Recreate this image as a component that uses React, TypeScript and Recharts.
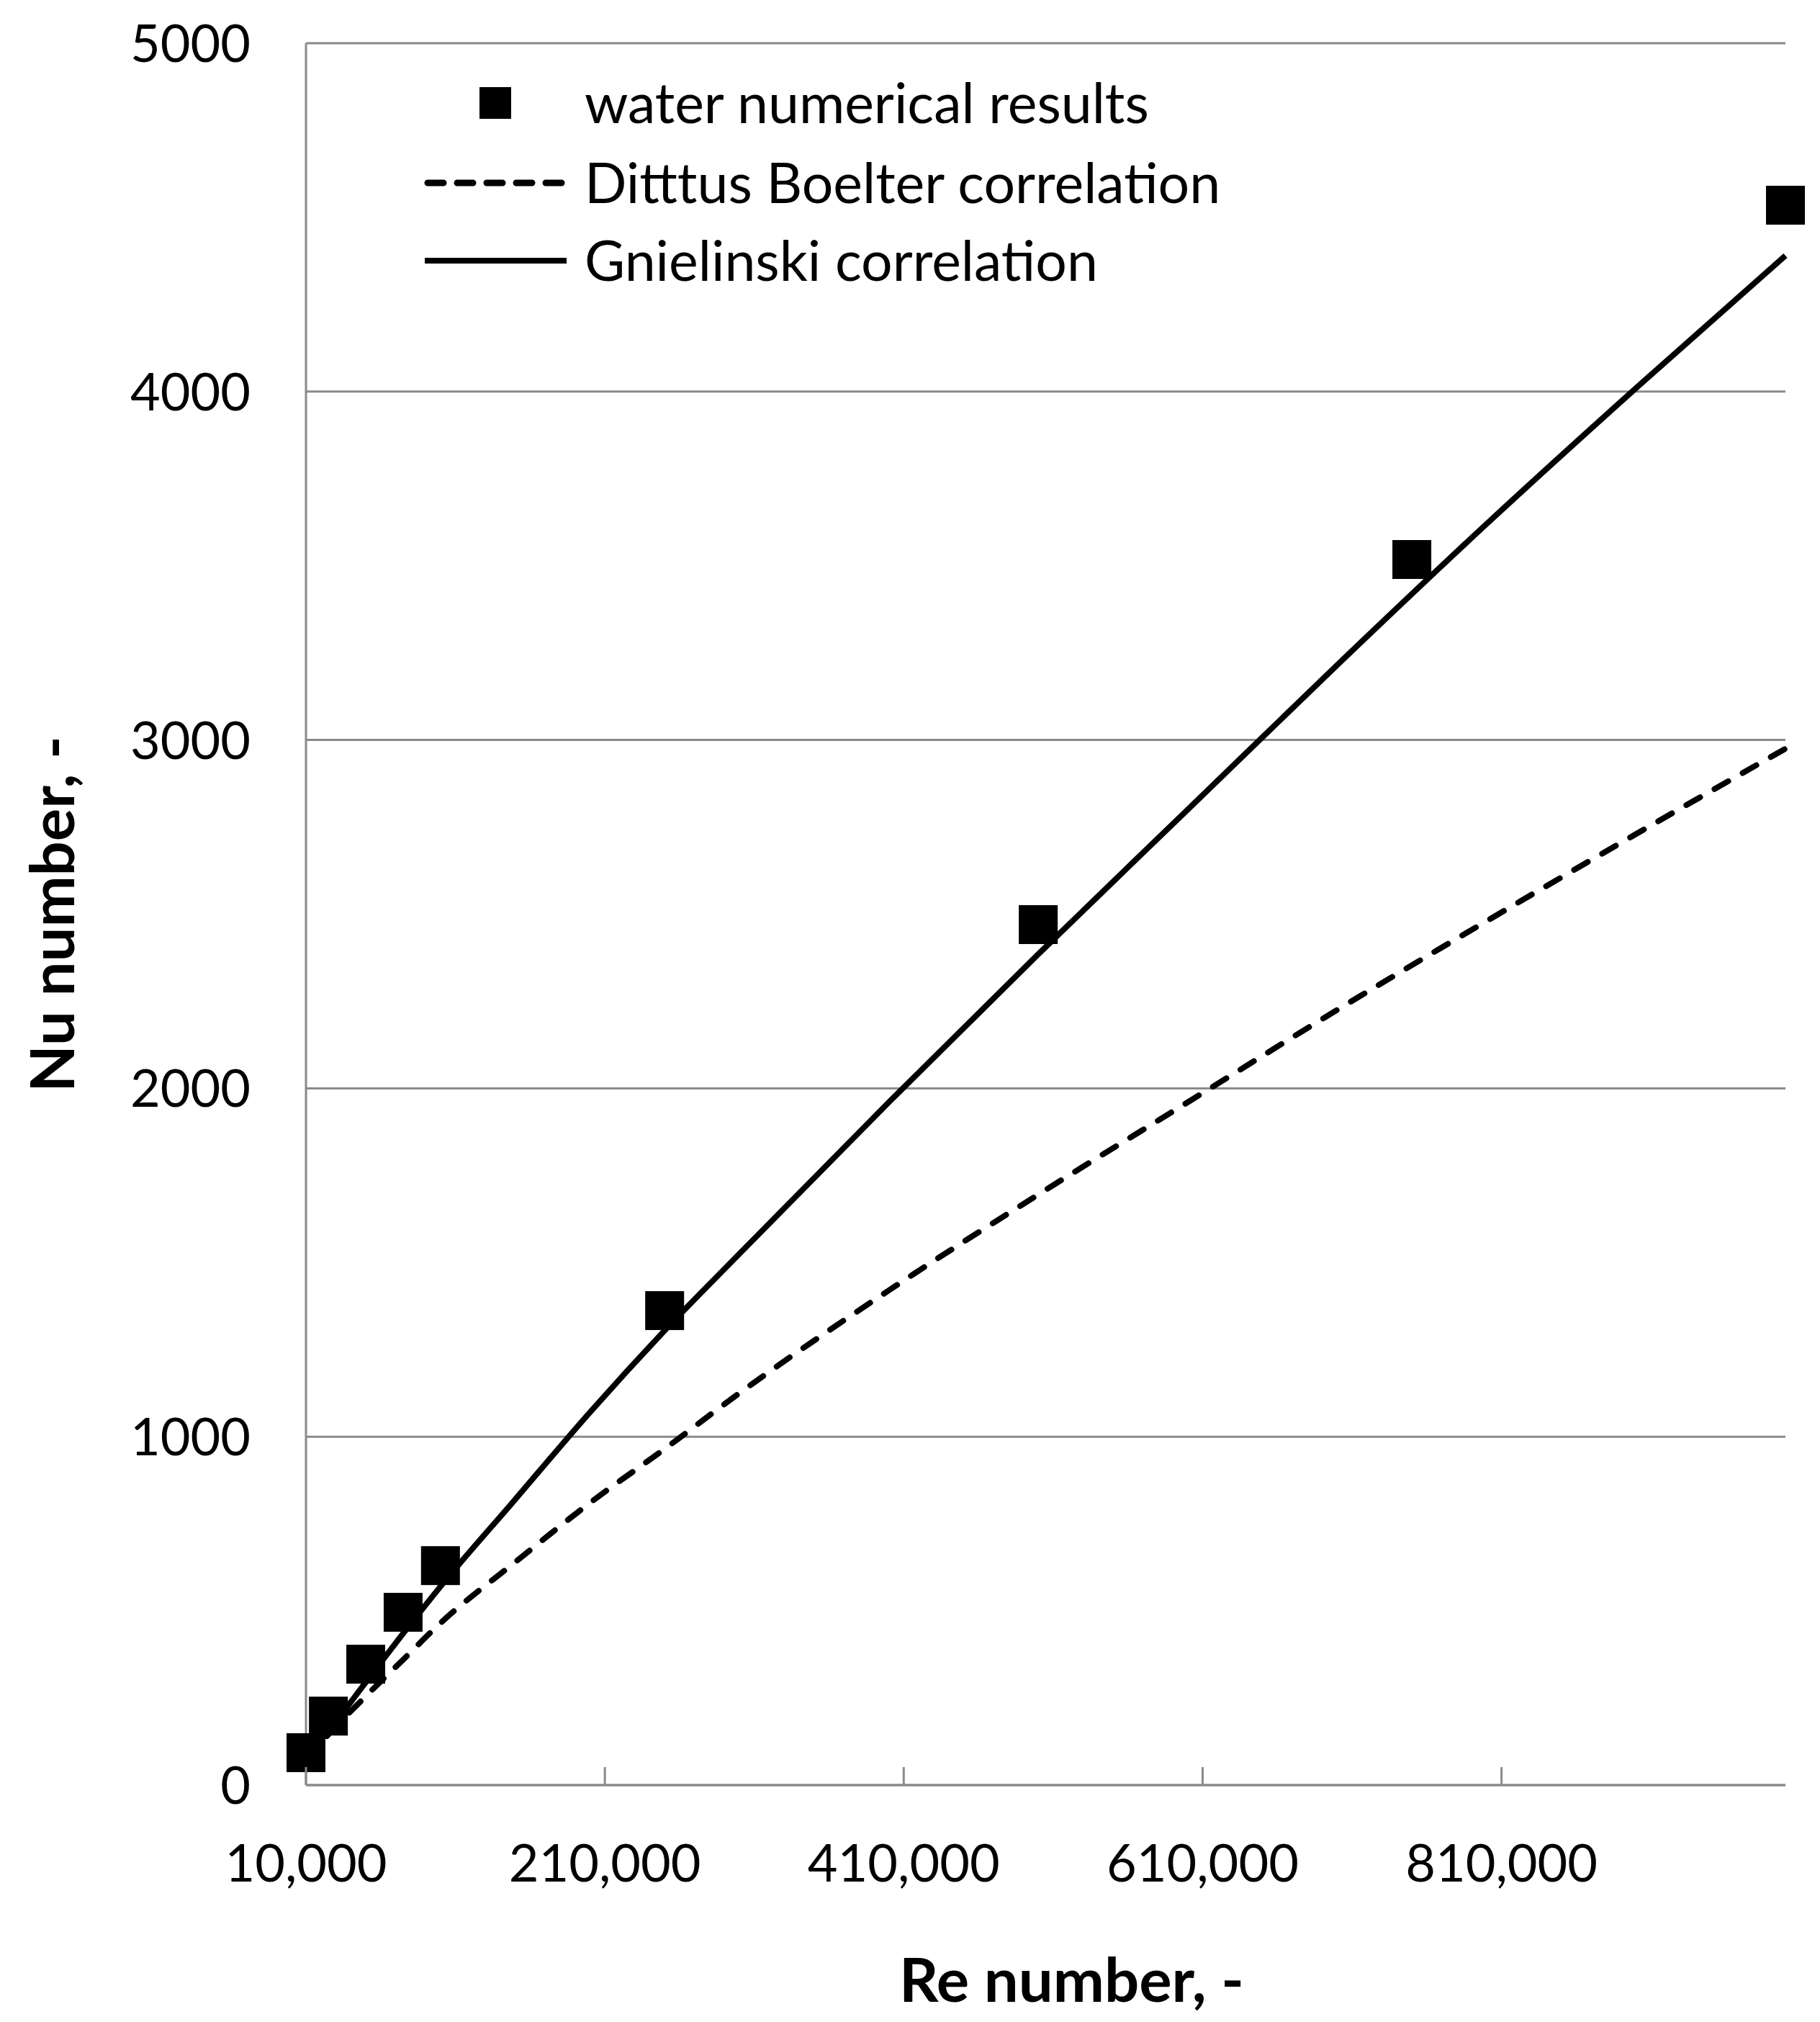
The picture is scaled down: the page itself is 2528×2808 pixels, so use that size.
import React from "react";
import {
  ComposedChart,
  Line,
  Scatter,
  XAxis,
  YAxis,
  CartesianGrid,
  Legend,
} from "recharts";

/** Axis ticks */
const reTicks = [10000, 210000, 410000, 610000, 810000];
const nuTicks = [0, 1000, 2000, 3000, 4000, 5000];

/** Simulation points (squares) */
const simRe = [10000, 25000, 50000, 75000, 100000, 250000, 500000, 750000, 1000000];
const simNu = [93, 198, 347, 496, 630, 1362, 2470, 3518, 4535];

/** Correlation curves */
const corrRe = [
  10000, 25000, 50000, 75000, 100000, 150000, 200000, 250000, 300000, 400000,
  500000, 600000, 700000, 800000, 900000, 1000000,
];
const dittusNu = [70, 145, 255, 360, 465, 640, 810, 965, 1125, 1420, 1695, 1960, 2225, 2480, 2730, 2975];
const gnielinskiNu = [80, 155, 295, 435, 570, 820, 1070, 1305, 1525, 1960, 2385, 2800, 3215, 3620, 4010, 4390];

const FONT = "Lato, 'Open Sans', sans-serif";
const GRID = "#8a8a8a";
const W = 2528;
const H = 2808;

const sim = simRe.map((re, i) => ({ re, nu: simNu[i] }));
const dittus = corrRe.map((re, i) => ({ re, nu: dittusNu[i] }));
const gnielinski = corrRe.map((re, i) => ({ re, nu: gnielinskiNu[i] }));

const fmt = (v: number) => v.toLocaleString("en-US");

function XTick({ x, y, payload }: any) {
  return (
    <g>
      <line x1={x} x2={x} y1={y} y2={y - 25} stroke={GRID} strokeWidth={3} />
      <text x={x} y={y + 134} textAnchor="middle" fontFamily={FONT} fontSize={72} fill="#000">
        {fmt(payload.value)}
      </text>
    </g>
  );
}

function YTick({ x, y, payload }: any) {
  return (
    <text x={x - 77} y={y} dy="0.36em" textAnchor="end" fontFamily={FONT} fontSize={72} fill="#000">
      {payload.value}
    </text>
  );
}

const Square = ({ cx, cy }: any) => <rect x={cx - 27} y={cy - 27} width={54} height={54} fill="#000" />;

// legend drawn in its own small svg, positioned over the plot
function ChartLegend() {
  const text = { fontFamily: FONT, fontSize: 77, fill: "#000" } as const;
  return (
    <svg width={1200} height={360}>
      <rect x={116} y={61} width={44} height={44} fill="#000" />
      <text x={262} y={83} dy="0.36em" {...text}>water numerical results</text>
      <line x1={44} x2={237} y1={194} y2={194} stroke="#000" strokeWidth={9} strokeDasharray="22 19" strokeLinecap="round" />
      <text x={262} y={194} dy="0.36em" {...text}>Ditttus Boelter correlation</text>
      <line x1={40} x2={237} y1={302} y2={302} stroke="#000" strokeWidth={8} />
      <text x={262} y={302} dy="0.36em" {...text}>Gnielinski correlation</text>
    </svg>
  );
}

export default function App() {
  return (
    <div style={{ width: W, height: H, background: "#fff" }}>
      <style>{`body{margin:0}`}</style>
      <ComposedChart width={W} height={H} margin={{ top: 60, right: 48, bottom: 0, left: 0 }}>
        <CartesianGrid vertical={false} stroke={GRID} strokeWidth={3} />
        <XAxis
          type="number"
          dataKey="re"
          domain={[10000, 1000000]}
          ticks={reTicks}
          height={329}
          axisLine={{ stroke: GRID, strokeWidth: 3 }}
          tickLine={false}
          tickSize={0}
          tickMargin={0}
          tick={<XTick />}
          label={({ viewBox }: any) => (
            <text
              x={viewBox.x + viewBox.width / 2 + 36}
              y={viewBox.y + 270}
              dy="0.36em"
              textAnchor="middle"
              fontFamily={FONT}
              fontWeight="bold"
              fontSize={85}
              fill="#000"
            >
              Re number, -
            </text>
          )}
        />
        <YAxis
          type="number"
          domain={[0, 5000]}
          ticks={nuTicks}
          width={425}
          axisLine={{ stroke: GRID, strokeWidth: 3 }}
          tickLine={false}
          tickSize={0}
          tickMargin={0}
          tick={<YTick />}
          label={({ viewBox }: any) => {
            const cx = viewBox.x + 72;
            const cy = viewBox.y + viewBox.height / 2;
            return (
              <text
                x={cx}
                y={cy}
                dy="0.36em"
                textAnchor="middle"
                transform={`rotate(-90 ${cx} ${cy})`}
                fontFamily={FONT}
                fontWeight="bold"
                fontSize={85}
                fill="#000"
              >
                Nu number, -
              </text>
            );
          }}
        />
        <Legend
          layout="horizontal"
          verticalAlign="middle"
          align="center"
          wrapperStyle={{ top: 60, left: 550, width: 1200, height: 360 }}
          content={() => <ChartLegend />}
        />
        <Line
          data={dittus}
          dataKey="nu"
          type="monotone"
          dot={false}
          stroke="#000"
          strokeWidth={8}
          strokeDasharray="22 23"
          strokeLinecap="round"
          isAnimationActive={false}
        />
        <Line
          data={gnielinski}
          dataKey="nu"
          type="monotone"
          dot={false}
          stroke="#000"
          strokeWidth={8}
          isAnimationActive={false}
        />
        <Scatter data={sim} dataKey="nu" shape={<Square />} isAnimationActive={false} />
      </ComposedChart>
    </div>
  );
}
